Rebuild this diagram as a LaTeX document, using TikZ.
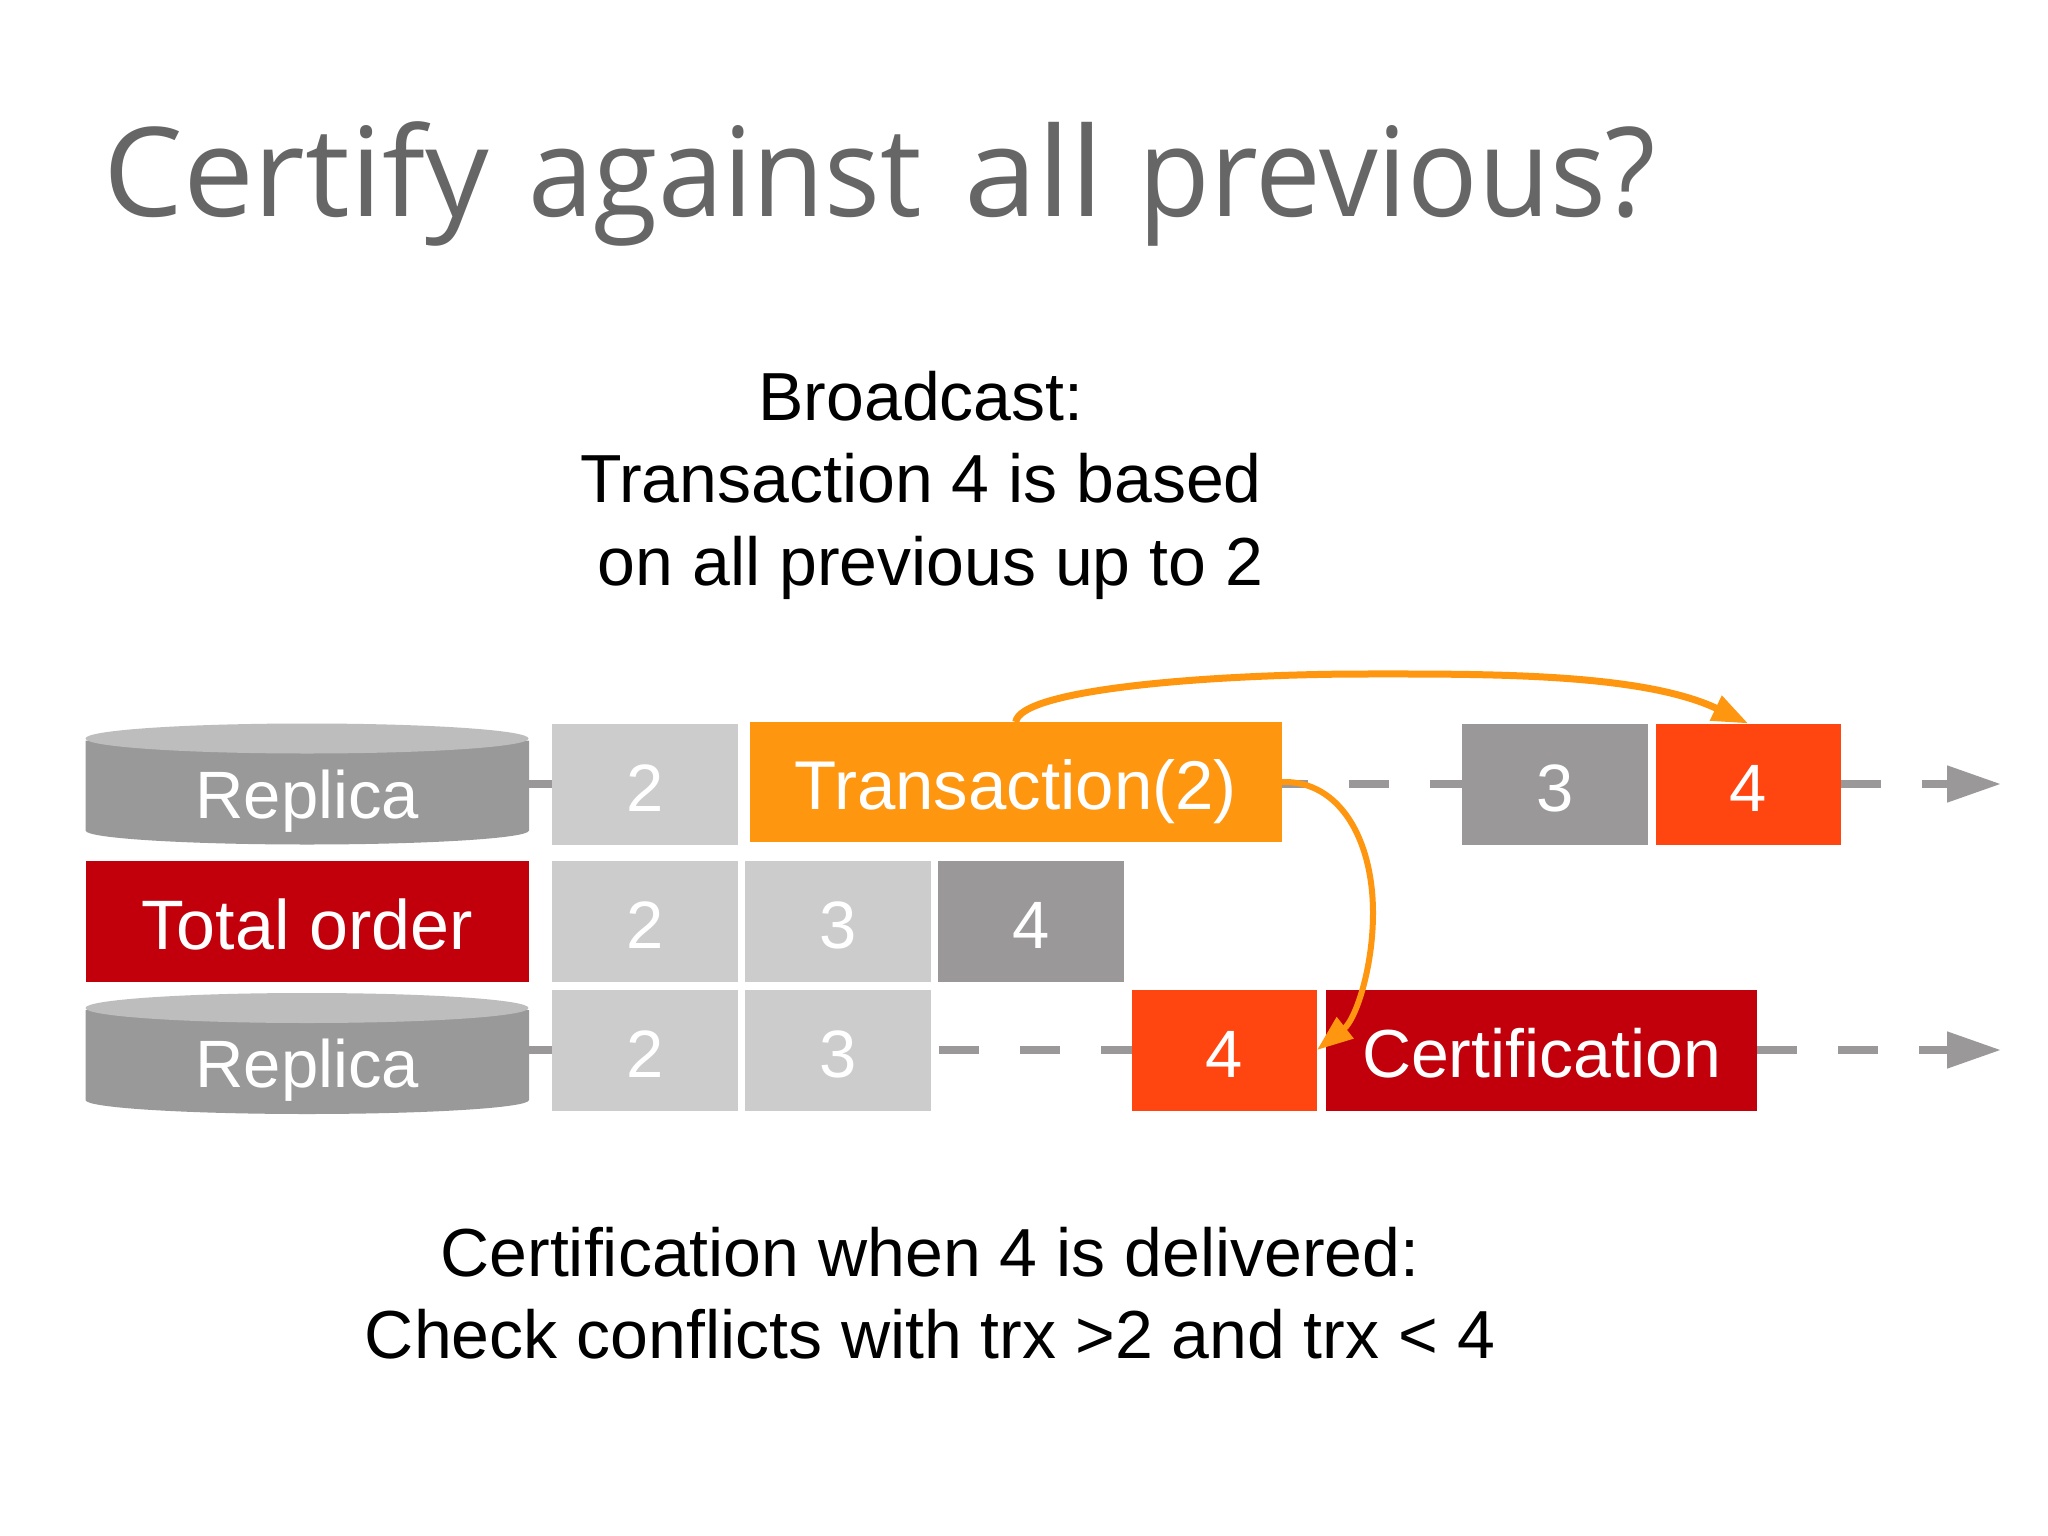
\documentclass[tikz,border=0pt]{standalone}
\usepackage{graphicx}
\usepackage{fontspec}
\setmainfont{Liberation Sans}
\newfontfamily\titlefont{Open Sans}
\usetikzlibrary{arrows.meta}
\definecolor{boxlight}{HTML}{CCCCCC}
\definecolor{boxgrey}{HTML}{9A9899}
\definecolor{cylside}{HTML}{999999}
\definecolor{cyltop}{HTML}{BDBDBD}
\definecolor{crimson}{HTML}{C2000B}
\definecolor{redorange}{HTML}{FF4510}
\definecolor{amber}{HTML}{FF9610}
\definecolor{titlegrey}{HTML}{666666}
\tikzset{
  x=1pt,y=-1pt,
  cell/.style={rectangle,inner sep=0pt,outer sep=0pt,text=white,
    font=\fontsize{67}{67}\selectfont,text height=54pt,text depth=0pt,
    minimum height=121pt},
  sq/.style={cell,minimum width=185.5pt},
  light/.style={sq,fill=boxlight},
  grey/.style={sq,fill=boxgrey},
  hot/.style={sq,fill=redorange},
  cyllabel/.style={cell,minimum width=443.5pt,text height=68pt},
  link/.style={draw=boxgrey,line width=8pt},
  dashlink/.style={link,dash pattern=on 40pt off 41pt},
  flow/.style={dashlink,-{Triangle[length=54pt,width=35pt]}},
  jump/.style={draw=amber,-{Triangle[length=36pt,width=26pt,fill=amber]}},
  bodytext/.style={inner sep=0pt,align=center,font=\fontsize{68}{82.5}\selectfont,text=black}
}
\newcommand{\cyl}[1]{%
  \fill[cylside] (85.5,#1+17) -- (85.5,#1+107)
    .. controls (85.5,#1+115) and (190,#1+121) .. (307,#1+121)
    .. controls (424,#1+121) and (529,#1+115) .. (529,#1+107)
    -- (529,#1+17) -- cycle;
  \fill[cyltop] (307,#1+15) ellipse [x radius=221.5, y radius=15];
}
\begin{document}
\begin{tikzpicture}
\useasboundingbox (0,0) rectangle (2048,1536);
\fill[white] (0,0) rectangle (2048,1536);

\node[anchor=base west,inner sep=0pt,text=titlegrey,font=\titlefont\fontsize{124}{124}\selectfont] (title) at (103,216) {\scalebox{1.02}[1]{Certify}\hspace{40pt}\scalebox{0.945}[1]{against}\hspace{42pt}\scalebox{1.06}[1]{all}\hspace{35pt}\scalebox{0.944}[1]{previous?}};

\node[bodytext,anchor=north] (top) at (921,371) {Broadcast:\\Transaction 4 is based\\\hspace{19pt}on all previous up to 2};
\node[bodytext,anchor=north] (bottom) at (930,1227) {Certification when 4 is delivered:\\Check conflicts with trx >2 and trx < 4};

\cyl{723.5}
\cyl{993}
\node[cyllabel] (cylA) at (307.25,784) {Replica};
\node[cyllabel,text height=74pt] (cylB) at (307.25,1050) {Replica};
\node[cell,minimum width=443.5pt,fill=crimson,font=\fontsize{70}{70}\selectfont,text height=55pt] (order) at (307.25,921.5) {Total order};

\node[light] (a2) at (645,784) {2};
\node[cell,minimum width=531.5pt,minimum height=120pt,fill=amber,font=\fontsize{69}{69}\selectfont] (tx) at (1015.75,782) {Transaction(2)};
\node[grey] (a3) at (1555,784) {3};
\node[hot] (a4) at (1748.25,784) {4};

\node[light] (b2) at (645,921.5) {2};
\node[light] (b3) at (838,921.5) {3};
\node[grey] (b4) at (1031,921.5) {4};

\node[light] (c2) at (645,1050) {2};
\node[light] (c3) at (838,1050) {3};
\node[hot] (c4) at (1224.25,1050) {4};
\node[cell,minimum width=431pt,fill=crimson,font=\fontsize{68}{68}\selectfont] (cert) at (1541.5,1050) {Certification};

\coordinate (endA) at (2001,784);
\coordinate (endC) at (2001,1050);

\draw[link] (cylA.east) -- (a2.west);
\draw[link] (cylB.east) -- (c2.west);
\draw[dashlink,dash phase=14pt] (tx.east |- a3.west) -- (a3.west);
\draw[dashlink,dash phase=73pt] (c3.east) -- (c4.west);
\draw[flow] (a4.east) -- (endA);
\draw[flow] (cert.east) -- (endC);

\draw[jump,line width=7pt] (tx.north) .. controls (1020,690) and (1200,675) .. (1354,674)
  .. controls (1480,674) and (1640,672) .. (a4.north);
\draw[jump,line width=6pt] (tx.east) .. controls (1340,780) and (1373,840) .. (1373,913)
  .. controls (1373,970) and (1355,1020) .. (c4.east);
\end{tikzpicture}
\end{document}
